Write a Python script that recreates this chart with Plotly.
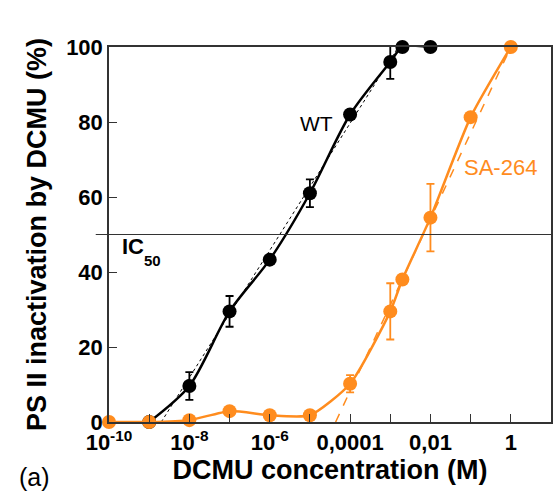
import plotly.graph_objects as go

# ---- data ----
wt_conc = [1e-9, 1e-8, 1e-7, 1e-6, 1e-5, 1e-4, 1e-3, 2e-3, 1e-2]
wt_inact = [0, 9.6, 29.5, 43.3, 61, 82, 96, 100, 100]
wt_err = [0, 3.7, 4.1, 0, 3.7, 0, 4.5, 0, 0]

sa_conc = [1e-10, 1e-9, 1e-8, 1e-7, 1e-6, 1e-5, 1e-4, 1e-3, 2e-3, 1e-2, 1e-1, 1]
sa_inact = [0, 0, 0.5, 2.9, 1.8, 1.8, 10.2, 29.5, 38, 54.5, 81.3, 100]
sa_err = [0, 0, 0, 0, 0, 0, 2.3, 7.5, 0, 9, 0, 0]

wt_fit_x = [10 ** -8.7, 10 ** -2.8]
wt_fit_y = [0, 100]
sa_fit_x = [10 ** -4.36, 1]
sa_fit_y = [0, 100]

x_tickvals = [1e-10, 1e-9, 1e-8, 1e-7, 1e-6, 1e-5, 1e-4, 1e-3, 1e-2, 1e-1, 1, 10]
x_ticktext = ["10<sup>-10</sup>", "", "10<sup>-8</sup>", "", "10<sup>-6</sup>", "",
              "0,0001", "", "0,01", "", "1", ""]
y_tickvals = [0, 20, 40, 60, 80, 100]

BLACK = "#000000"
ORANGE = "#FF8C1E"
FONT = "Arial, 'Liberation Sans', sans-serif"

fig = go.Figure()

fig.add_trace(go.Scatter(x=wt_fit_x, y=wt_fit_y, mode="lines",
                         line=dict(color=BLACK, width=1, dash="dot"),
                         showlegend=False, hoverinfo="skip"))
fig.add_trace(go.Scatter(x=sa_fit_x, y=sa_fit_y, mode="lines",
                         line=dict(color=ORANGE, width=1.5, dash="dash"),
                         showlegend=False, hoverinfo="skip"))

fig.add_trace(go.Scatter(
    x=wt_conc, y=wt_inact, mode="lines+markers",
    line=dict(color=BLACK, width=2.5, shape="spline", smoothing=0.8),
    marker=dict(color=BLACK, size=14),
    error_y=dict(type="data", array=wt_err, color=BLACK, thickness=1.8, width=4),
    cliponaxis=False, showlegend=False))

fig.add_trace(go.Scatter(
    x=sa_conc, y=sa_inact, mode="lines+markers",
    line=dict(color=ORANGE, width=2.5, shape="spline", smoothing=0.6),
    marker=dict(color=ORANGE, size=14),
    error_y=dict(type="data", array=sa_err, color=ORANGE, thickness=1.8, width=4),
    cliponaxis=False, showlegend=False))

# IC50 line
fig.add_shape(type="line", xref="paper", yref="y", x0=-0.03, x1=1, y0=50, y1=50,
              line=dict(color="#333333", width=1.2))

fig.add_annotation(x=-4.84, y=79.6, xref="x", yref="y", text="WT", showarrow=False,
                   font=dict(family=FONT, size=21, color=BLACK))
fig.add_annotation(x=-0.25, y=68, xref="x", yref="y", text="SA-264", showarrow=False,
                   font=dict(family=FONT, size=22, color=ORANGE))
fig.add_annotation(x=-9.72, y=46.8, xref="x", yref="y", xanchor="left",
                   text="<b>IC</b>", showarrow=False,
                   font=dict(family=FONT, size=22, color=BLACK))
fig.add_annotation(x=-9.17, y=43.2, xref="x", yref="y", xanchor="left",
                   text="<b>50</b>", showarrow=False,
                   font=dict(family=FONT, size=15, color=BLACK))
fig.add_annotation(x=(34 - 109) / 444, y=(422 - 477) / 375, xref="paper", yref="paper",
                   yanchor="middle", xanchor="center",
                   text="(a)", showarrow=False,
                   font=dict(family=FONT, size=25, color=BLACK))

fig.update_layout(
    width=555, height=491,
    margin=dict(l=109, r=2, t=47, b=69),
    paper_bgcolor="white", plot_bgcolor="white",
    font=dict(family=FONT, color=BLACK),
    xaxis=dict(
        type="log", range=[-10, 1],
        tickvals=x_tickvals, ticktext=x_ticktext,
        ticks="inside", ticklen=8, tickwidth=1.2, tickcolor="#333333",
        showline=True, linecolor="#333333", linewidth=1.5, mirror=True,
        showgrid=False, zeroline=False,
        tickfont=dict(family=FONT, size=22, color=BLACK, weight="bold"),
        title=dict(text="<b>DCMU concentration (M)</b>", standoff=6,
                   font=dict(family=FONT, size=27, color=BLACK)),
    ),
    yaxis=dict(
        range=[0, 100], tickvals=y_tickvals,
        ticks="inside", ticklen=8, tickwidth=1.2, tickcolor="#333333",
        showline=True, linecolor="#333333", linewidth=1.5, mirror=True,
        showgrid=False, zeroline=False,
        tickfont=dict(family=FONT, size=22, color=BLACK, weight="bold"),
        title=dict(text="<b>PS II inactivation by DCMU (%)</b>", standoff=12,
                   font=dict(family=FONT, size=27, color=BLACK)),
    ),
)

fig.write_html("out.html")
